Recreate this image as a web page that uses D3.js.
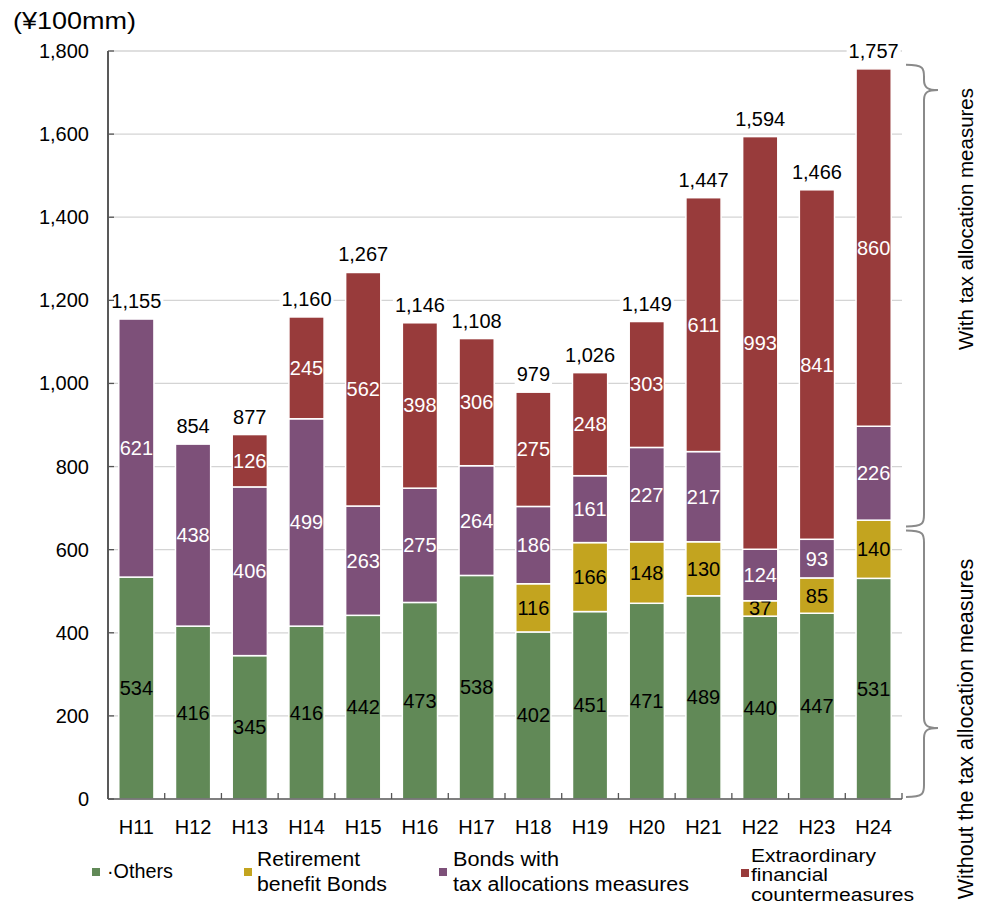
<!DOCTYPE html>
<html><head><meta charset="utf-8">
<script src="https://cdn.jsdelivr.net/npm/d3@7"></script>
<style>body{margin:0;background:#fff;} svg{display:block;font-family:"Liberation Sans",Arial,sans-serif;}</style>
</head><body>
<svg id="c" width="982" height="905"></svg>
<script>
const categories = ["H11","H12","H13","H14","H15","H16","H17","H18","H19","H20","H21","H22","H23","H24"];
const others     = [534,416,345,416,442,473,538,402,451,471,489,440,447,531];
const retirement = [0,0,0,0,0,0,0,116,166,148,130,37,85,140];
const bonds      = [621,438,406,499,263,275,264,186,161,227,217,124,93,226];
const extra      = [0,0,126,245,562,398,306,275,248,303,611,993,841,860];
const totals     = [1155,854,877,1160,1267,1146,1108,979,1026,1149,1447,1594,1466,1757];
const yTicks     = [0,200,400,600,800,1000,1200,1400,1600,1800];
const colors = ["#618957","#c3a41f","#7d5079","#983b3b"];
const labelColors = ["#000","#000","#fff","#fff"];
const FS = 20;

const svg = d3.select("#c");
const x = d3.scaleBand().domain(categories).range([108,902]).paddingInner(0.38).paddingOuter(0.19);
const y = d3.scaleLinear().domain([0,1800]).range([799,51]);

// gridlines
svg.append("g").selectAll("line").data(yTicks.slice(1)).join("line")
  .attr("x1",110).attr("x2",902).attr("y1",d=>y(d)).attr("y2",d=>y(d))
  .attr("stroke","#d4d4d4").attr("stroke-width",1.3);

const rows = categories.map((c,i)=>({cat:c, s0:others[i], s1:retirement[i], s2:bonds[i], s3:extra[i]}));
const stack = d3.stack().keys(["s0","s1","s2","s3"])(rows);

// total labels with white background
const tl = svg.append("g");
categories.forEach((c,i)=>{
  const cx = x(c)+x.bandwidth()/2;
  const t = tl.append("text").attr("x",cx).attr("y",y(totals[i])-11).attr("text-anchor","middle")
    .attr("font-size",FS).attr("fill","#000").text(d3.format(",")(totals[i]));
  const bb = t.node().getBBox();
  tl.insert("rect","text").attr("x",bb.x-2).attr("y",bb.y).attr("width",bb.width+4).attr("height",bb.height).attr("fill","#fff");
});

stack.forEach((layer,k)=>{
  const g = svg.append("g");
  g.selectAll("rect").data(layer.filter(d=>d[1]-d[0]>0)).join("rect")
    .attr("x",d=>x(d.data.cat)).attr("width",x.bandwidth())
    .attr("y",d=>y(d[1])).attr("height",d=>y(d[0])-y(d[1]))
    .attr("fill",colors[k]).attr("stroke","#fff").attr("stroke-width",1.5);
  g.selectAll("text").data(layer.filter(d=>d[1]-d[0]>0)).join("text")
    .attr("x",d=>x(d.data.cat)+x.bandwidth()/2)
    .attr("y",d=>(y(d[0])+y(d[1]))/2+7)
    .attr("text-anchor","middle").attr("font-size",FS).attr("fill",labelColors[k])
    .text(d=>d[1]-d[0]);
});

// y axis
svg.append("line").attr("x1",108).attr("x2",108).attr("y1",51).attr("y2",799).attr("stroke","#222").attr("stroke-width",1.5);
svg.append("g").selectAll("line").data(yTicks).join("line")
  .attr("x1",108).attr("x2",114).attr("y1",d=>y(d)).attr("y2",d=>y(d)).attr("stroke","#555").attr("stroke-width",1.3);
svg.append("g").selectAll("text").data(yTicks).join("text")
  .attr("x",89).attr("y",d=>y(d)+7).attr("text-anchor","end").attr("font-size",FS).attr("fill","#000")
  .text(d=>d3.format(",")(d));

// x axis
svg.append("line").attr("x1",108).attr("x2",902).attr("y1",799).attr("y2",799).attr("stroke","#555").attr("stroke-width",1.5);
const bounds = categories.map(c=>x(c)-x.step()*x.paddingInner()/2).slice(1).concat([902]);
svg.append("g").selectAll("line").data(bounds).join("line")
  .attr("x1",d=>d).attr("x2",d=>d).attr("y1",799).attr("y2",793).attr("stroke","#555").attr("stroke-width",1.3);
svg.append("g").selectAll("text").data(categories).join("text")
  .attr("x",d=>x(d)+x.bandwidth()/2).attr("y",834).attr("text-anchor","middle").attr("font-size",FS).attr("fill","#000")
  .text(d=>d);

// unit label
svg.append("text").attr("x",13).attr("y",29).attr("font-size",24).attr("fill","#000")
  .attr("textLength",123).attr("lengthAdjust","spacingAndGlyphs").text("(¥100mm)");

// braces
function brace(top, tip, bot){
  const x0=906, xv=924, xt=938;
  return `M${x0},${top} C${xv},${top} ${xv},${top+4} ${xv},${top+12} L${xv},${tip-10} C${xv},${tip-2} ${xv+4},${tip} ${xt},${tip}`+
         ` C${xv+4},${tip} ${xv},${tip+2} ${xv},${tip+10} L${xv},${bot-12} C${xv},${bot-4} ${xv},${bot} ${x0},${bot}`;
}
svg.append("path").attr("d",brace(y(1757)-4, 90, y(670)+6)).attr("fill","none").attr("stroke","#8a8a8a").attr("stroke-width",2);
svg.append("path").attr("d",brace(y(670)+10, 728, 797)).attr("fill","none").attr("stroke","#8a8a8a").attr("stroke-width",2);
svg.append("text").attr("transform","translate(973,219) rotate(-90)").attr("text-anchor","middle").attr("font-size",20.5).attr("fill","#000")
  .text("With tax allocation measures");
svg.append("text").attr("transform","translate(973,729) rotate(-90)").attr("text-anchor","middle").attr("font-size",21.5).attr("fill","#000")
  .text("Without the tax allocation measures");

// legend
const leg = svg.append("g").attr("fill","#000");
const legItems = [
  {c:colors[0], sx:92, sy:868, tx:107, fs:20, lines:["·Others"], w:[66], ly:[878]},
  {c:colors[1], sx:244, sy:868, tx:257, fs:20, lines:["Retirement","benefit Bonds"], w:[103,130], ly:[866,891]},
  {c:colors[2], sx:439, sy:868, tx:453, fs:20, lines:["Bonds with","tax allocations measures"], w:[106,236], ly:[866,891]},
  {c:colors[3], sx:741, sy:869, tx:751, fs:17.5, lines:["Extraordinary","financial","countermeasures"], w:[125,77,163], ly:[861.5,881.3,901]}
];
legItems.forEach(it=>{
  leg.append("rect").attr("x",it.sx).attr("y",it.sy).attr("width",8).attr("height",8).attr("fill",it.c);
  it.lines.forEach((l,j)=>leg.append("text").attr("x",it.tx).attr("y",it.ly[j]).attr("font-size",it.fs)
    .attr("textLength",it.w[j]).attr("lengthAdjust","spacingAndGlyphs").text(l));
});
</script>
</body></html>
